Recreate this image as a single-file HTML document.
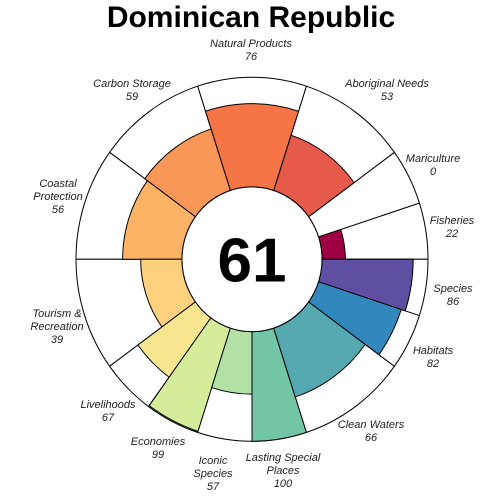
<!DOCTYPE html>
<html><head><meta charset="utf-8"><style>
body{margin:0;background:#fff}
svg{display:block}
text{font-family:"Liberation Sans",sans-serif}
.lab{font-size:11px;font-style:italic;fill:#222}
</style></head><body>
<svg id="chart" width="504" height="504" viewBox="0 0 504 504">
<text x="251" y="27" text-anchor="middle" font-size="30" font-weight="bold">Dominican Republic</text>
</svg>
<script>
const goals = ["Fisheries","Mariculture","Aboriginal Needs","Natural Products","Carbon Storage","Coastal Protection","Tourism & Recreation","Livelihoods","Economies","Iconic Species","Lasting Special Places","Clean Waters","Habitats","Species"];
const scores = [22,0,53,76,59,56,39,67,99,57,100,66,82,86];
const widths = [18,18,36,36,36,36,36,18,18,18,18,36,18,18];
const colors = ["#9E0142","#D53E4F","#E55A48","#F57547","#F99856","#FDB366","#FDD07E","#F8E590","#D5EC9A","#B3E0A5","#72C5A5","#55A8B0","#3288BD","#5E4FA2"];
const overall = 61;
const labelLines = [["Fisheries"],["Mariculture"],["Aboriginal Needs"],["Natural Products"],["Carbon Storage"],["Coastal","Protection"],["Tourism &","Recreation"],["Livelihoods"],["Economies"],["Iconic","Species"],["Lasting Special","Places"],["Clean Waters"],["Habitats"],["Species"]];
const labelPos = [[452,224],[433,162],[387,87],[251,47],[132,87],[58,187],[57,317],[108,408],[158,445],[213,464],[283,461],[371,428],[433,354],[453,292]];

const NS="http://www.w3.org/2000/svg";
const svg=document.getElementById('chart');
const cx=252, cy=259.3, rx=176, ry=182, r0=70;
function rad(s){return r0+(rx-r0)*s/100;}
function pt(r,a){const t=a*Math.PI/180;return [cx+r*Math.cos(t), cy-r*(ry/rx)*Math.sin(t)];}
function wedge(r,a0,a1){
  const p0=pt(r0,a0),p1=pt(r,a0),p2=pt(r,a1),p3=pt(r0,a1);
  const ryr=r*ry/rx, ry0=r0*ry/rx;
  return `M${p0} L${p1} A${r},${ryr} 0 0 0 ${p2} L${p3} A${r0},${ry0} 0 0 1 ${p0} Z`;
}
let a=0;
const starts=[];
for(let i=0;i<goals.length;i++){starts.push(a);a+=widths[i];}
for(let i=0;i<goals.length;i++){
  const a0=starts[i],a1=a0+widths[i];
  const bg=document.createElementNS(NS,'path');
  bg.setAttribute('d',wedge(rx,a0,a1));
  bg.setAttribute('fill','#fff');bg.setAttribute('stroke','#000');bg.setAttribute('stroke-width','1');
  
  
  svg.appendChild(bg);
}
for(let i=0;i<goals.length;i++){
  if(scores[i]<=0)continue;
  const a0=starts[i],a1=a0+widths[i];
  const p=document.createElementNS(NS,'path');
  p.setAttribute('d',wedge(rad(scores[i]),a0,a1));
  p.setAttribute('fill',colors[i]);p.setAttribute('stroke','#000');p.setAttribute('stroke-width','1');
  
  
  svg.appendChild(p);
}
const c=document.createElementNS(NS,'ellipse');
c.setAttribute('cx',cx);c.setAttribute('cy',cy);c.setAttribute('rx',r0);c.setAttribute('ry',r0*ry/rx);
c.setAttribute('fill','#fff');c.setAttribute('stroke','#000');


svg.appendChild(c);
const t=document.createElementNS(NS,'text');
t.setAttribute('x',cx);t.setAttribute('y',cy+22);t.setAttribute('text-anchor','middle');
t.setAttribute('font-size','62');t.setAttribute('font-weight','bold');
t.textContent=overall;


svg.appendChild(t);
for(let i=0;i<goals.length;i++){
  const g=document.createElementNS(NS,'text');
  g.setAttribute('class','lab');g.setAttribute('text-anchor','middle');
  
  
  const lines=labelLines[i].concat([String(scores[i])]);
  lines.forEach((l,j)=>{
    const ts=document.createElementNS(NS,'tspan');
    ts.setAttribute('x',labelPos[i][0]);ts.setAttribute('y',labelPos[i][1]+j*13);
    ts.textContent=l;g.appendChild(ts);
  });
  svg.appendChild(g);
}
</script>
</body></html>
